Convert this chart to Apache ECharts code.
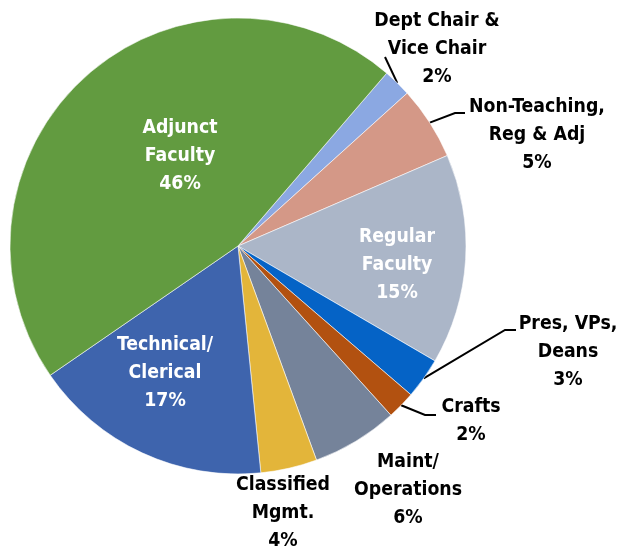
<!DOCTYPE html>
<html>
<head>
<meta charset="utf-8">
<script src="https://cdn.jsdelivr.net/npm/echarts@6/dist/echarts.min.js"></script>
<style>
  html, body { margin: 0; padding: 0; background: #fff; }
  #chart { width: 618px; height: 554px; }
</style>
</head>
<body>
<div id="chart"></div>
<script>
// categories, clockwise from the Dept Chair slice
var categories = [
  'Dept Chair &\nVice Chair',
  'Non-Teaching,\nReg & Adj',
  'Regular\nFaculty',
  'Pres, VPs,\nDeans',
  'Crafts',
  'Maint/\nOperations',
  'Classified\nMgmt.',
  'Technical/\nClerical',
  'Adjunct\nFaculty'
]
// share of staff, percent
var shares = [2.0, 5.2, 14.9, 2.9, 2.0, 6.1, 4.0, 17.0, 45.9]

var colors = ['#8ba8e2', '#d49887', '#abb6c8', '#0563c6', '#b25110', '#75839a', '#e3b53a', '#3e64ad', '#629b40']
var inside = [false, false, true, false, false, false, false, true, true]

// label block centre, offset from pie centre
var labelOffset = [
  [199, -197], [299, -111], [159, 19], [330, 106], [233, 175],
  [170, 244], [45, 267], [-73, 127], [-58, -90]
]
// leader line: end point and elbow, relative to the label centre
var leader = [
  { end: [-52, 8], elbow: [-52, 8] },
  { end: [-72, -22], elbow: [-82, -22] },
  null,
  { end: [-52, -22], elbow: [-63, -22] },
  { end: [-35, -6], elbow: [-46, -6] },
  null, null, null, null
]

var cx = 238, cy = 246, R = 228
var fontStack = '"Liberation Sans Narrow", "Arial Narrow", "DejaVu Sans Condensed", sans-serif'

// size the font so "Non-Teaching," is roughly as wide as in the original
var ctx = document.createElement('canvas').getContext('2d')
ctx.font = 'bold 22px ' + fontStack
var fontSize = Math.min(22, Math.round(22 * 136 / ctx.measureText('Non-Teaching,').width * 10) / 10)

var chart = echarts.init(document.getElementById('chart'))

var data = categories.map(function (name, i) {
  return {
    name: name,
    value: shares[i],
    itemStyle: { color: colors[i] },
    label: { color: inside[i] ? '#fff' : '#000' },
    labelLine: { show: !!leader[i] }
  }
})

chart.setOption({
  animation: false,
  series: [{
    type: 'pie',
    center: [cx, cy],
    radius: R,
    startAngle: 49.3,
    clockwise: true,
    percentPrecision: 0,
    avoidLabelOverlap: false,
    data: data,
    itemStyle: { borderColor: 'rgba(255,255,255,0.7)', borderWidth: 0.8 },
    label: {
      show: true,
      position: 'outside',
      formatter: '{b}\n{d}%',
      fontFamily: fontStack,
      fontWeight: 'bold',
      fontSize: fontSize,
      lineHeight: 28,
      align: 'center'
    },
    labelLine: {
      length: 15,
      length2: 10,
      lineStyle: { color: '#000', width: 2 }
    },
    emphasis: { disabled: true },
    labelLayout: function (params) {
      var i = params.dataIndex
      var x = cx + labelOffset[i][0]
      var y = cy + labelOffset[i][1]
      var res = { x: x, y: y, align: 'center', verticalAlign: 'middle' }
      var l = leader[i]
      if (l && params.labelLinePoints) {
        var p0 = params.labelLinePoints[0]
        res.labelLinePoints = [
          [p0[0], p0[1]],
          [x + l.elbow[0], y + l.elbow[1]],
          [x + l.end[0], y + l.end[1]]
        ]
      }
      return res
    }
  }]
})
</script>
</body>
</html>
